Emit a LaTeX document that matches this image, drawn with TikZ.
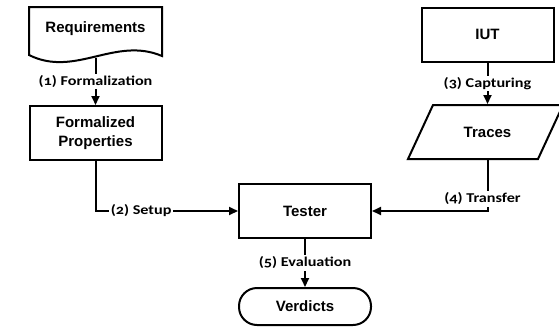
\documentclass[tikz,border=0pt]{standalone}
\usepackage{fontspec}
\usetikzlibrary{arrows.meta}
\newfontfamily\boxfont{Liberation Sans Bold}
\newfontfamily\labfont[FakeStretch=1.2,Numbers=OldStyle]{Carlito Bold}
\begin{document}
\begin{tikzpicture}[x=1pt,y=-1pt,
  line width=2pt,
  box/.style={draw, line width=2pt, minimum width=132pt, minimum height=54pt, inner sep=0pt,
    font=\boxfont\fontsize{15}{19}\selectfont, align=center},
  ghost/.style={box, draw=none},
  lab/.style={fill=white, inner sep=1.5pt, font=\labfont\fontsize{13.5}{15}\selectfont},
  arr/.style={-{Triangle[length=9pt,width=8pt]}, line width=2pt}
]
\useasboundingbox (0,0) rectangle (559,327);
\clip (0,0) rectangle (559,327);

% Requirements (document shape)
\draw (29,7) -- (162,7) -- (162,56) .. controls (115,36) and (75,78) .. (29,55) -- cycle;
\node[ghost, minimum height=56pt] (req) at (95.5,29) {Requirements};

% Formalized Properties
\node[box] (fp) at (95.5,133) {Formalized\\Properties};

% IUT
\node[box] (iut) at (487.5,34.5) {IUT};

% Traces (parallelogram)
\draw (408,159) -- (433,105) -- (563,105) -- (538,159) -- cycle;
\node[ghost] (traces) at (487.5,132) {Traces};

% Tester
\node[box] (tester) at (305,211) {Tester};

% Verdicts
\node[box, minimum height=37pt, rounded corners=18pt] (verd) at (305,306.5) {Verdicts};

% connectors
\draw[arr] (req.south) -- node[lab] (l1) {(1) Formalization} (fp.north);
\draw[arr] (fp.south) |- node[lab, pos=0.66] (l2) {(2) Setup} (tester.west);
\draw[arr] (iut.south) -- node[lab] (l3) {(3) Capturing} (traces.north);
\draw[arr] (traces.south) |- node[lab, pos=0.5, xshift=-5pt, yshift=12pt] (l4) {(4) Transfer} (tester.east);
\draw[arr] (tester.south) -- node[lab] (l5) {(5) Evaluation} (verd.north);
\end{tikzpicture}
\end{document}
